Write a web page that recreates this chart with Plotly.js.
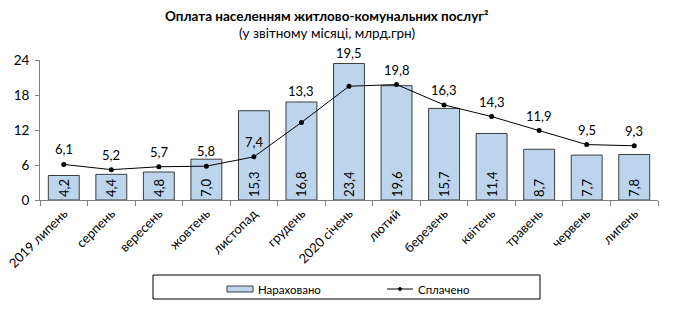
<!DOCTYPE html>
<html>
<head>
<meta charset="utf-8">
<script src="https://cdn.plot.ly/plotly-3.0.1.min.js"></script>
<style>
  html, body { margin: 0; padding: 0; background: #fff; }
  #chart { width: 681px; height: 310px; }
</style>
</head>
<body>
<div id="chart"></div>
<script>
// Місяці звітного періоду
const months = ['2019 липень', 'серпень', 'вересень', 'жовтень', 'листопад', 'грудень',
  '2020 січень', 'лютий', 'березень', 'квітень', 'травень', 'червень', 'липень'];
// Нараховано, млрд.грн
const accrued = [4.2, 4.4, 4.8, 7.0, 15.3, 16.8, 23.4, 19.6, 15.7, 11.4, 8.7, 7.7, 7.8];
// Сплачено, млрд.грн
const paid = [6.1, 5.2, 5.7, 5.8, 7.4, 13.3, 19.5, 19.8, 16.3, 14.3, 11.9, 9.5, 9.3];

const seriesNames = ['Нараховано', 'Сплачено'];
const titleText = 'Оплата населенням житлово-комунальних послуг²';
const subtitleText = '(у звітному місяці, млрд.грн)';

const FONT = 'Lato, "Liberation Sans", sans-serif';
const BAR_FILL = '#bdd4ed';
const BAR_EDGE = '#3c3c3c';
const fmt = v => v.toFixed(1).replace('.', ',');

// Plot area in pixels, used to place items outside the axes
const W = 681, H = 310;
const M = { l: 40, r: 23, t: 60, b: 110 };
const PW = W - M.l - M.r, PH = H - M.t - M.b;
const px = x => (x - M.l) / PW;
const py = y => (H - M.b - y) / PH;

const bars = {
  type: 'bar',
  name: seriesNames[0],
  x: months,
  y: accrued,
  width: 0.65,
  marker: { color: BAR_FILL, line: { color: BAR_EDGE, width: 1 } },
  text: accrued.map(fmt),
  textposition: 'inside',
  insidetextanchor: 'start',
  textangle: -90,
  constraintext: 'none',
  textfont: { family: FONT, size: 13, color: '#000' },
  hoverinfo: 'x+y'
};

const line = {
  type: 'scatter',
  mode: 'lines+markers',
  name: seriesNames[1],
  x: months,
  y: paid,
  line: { color: '#000', width: 1 },
  marker: { color: '#000', size: 5 },
  hoverinfo: 'x+y'
};

// Підписи лінії: над точкою, а на грудень–січень, де стовпчик вищий, — над стовпчиком
const lifted = new Set([5, 6]);
const lineLabels = paid.map((v, i) => ({
  x: months[i],
  y: lifted.has(i) ? accrued[i] : v,
  yshift: lifted.has(i) ? 11 : 15,
  text: fmt(v),
  showarrow: false,
  font: { family: FONT, size: 13, color: '#000' }
}));

const headings = [
  { text: '<b>' + titleText + '</b>', y: py(16), size: 13.5 },
  { text: subtitleText, y: py(33), size: 13.5 }
].map(h => ({
  xref: 'paper', yref: 'paper', x: px(327), y: h.y,
  xanchor: 'center', yanchor: 'middle', showarrow: false,
  text: h.text, font: { family: FONT, size: h.size, color: '#000' }
}));

// Легенда в рамці під графіком
const legendY = 289;
const legendText = [
  { text: seriesNames[0], x: 256 },
  { text: seriesNames[1], x: 416 }
].map(t => ({
  xref: 'paper', yref: 'paper', x: px(t.x), y: py(legendY),
  xanchor: 'left', yanchor: 'middle', showarrow: false,
  text: t.text, font: { family: FONT, size: 11.5, color: '#000' }
}));

const legendShapes = [
  { type: 'rect', x0: px(153), x1: px(540), y0: py(299), y1: py(275),
    line: { color: '#000', width: 1 }, fillcolor: 'rgba(0,0,0,0)' },
  { type: 'rect', x0: px(227), x1: px(253), y0: py(292), y1: py(286),
    line: { color: BAR_EDGE, width: 1 }, fillcolor: BAR_FILL },
  { type: 'line', x0: px(387), x1: px(413), y0: py(legendY), y1: py(legendY),
    line: { color: '#000', width: 1 } },
  { type: 'circle', x0: px(398.5), x1: px(401.5), y0: py(legendY + 1.5), y1: py(legendY - 1.5),
    line: { color: '#000', width: 1 }, fillcolor: '#000' }
].map(s => Object.assign({ xref: 'paper', yref: 'paper' }, s));

const layout = {
  width: W,
  height: H,
  margin: M,
  paper_bgcolor: '#fff',
  plot_bgcolor: '#fff',
  font: { family: FONT, size: 12, color: '#000' },
  showlegend: false,
  xaxis: {
    type: 'category',
    automargin: false,
    range: [-0.5, months.length - 0.5],
    tickangle: -45,
    ticks: 'outside',
    tickson: 'boundaries',
    ticklen: 5,
    tickcolor: '#7f7f7f',
    showline: true,
    linecolor: '#7f7f7f',
    linewidth: 1,
    showgrid: false,
    tickfont: { family: FONT, size: 13, color: '#000' }
  },
  yaxis: {
    automargin: false,
    range: [0, 24],
    tickvals: [0, 6, 12, 18, 24],
    ticks: 'outside',
    ticklen: 4,
    ticklabelstandoff: 3,
    tickcolor: '#7f7f7f',
    showline: true,
    linecolor: '#7f7f7f',
    linewidth: 1,
    showgrid: false,
    zeroline: false,
    tickfont: { family: FONT, size: 13.5, color: '#000' }
  },
  shapes: legendShapes,
  annotations: headings.concat(legendText, lineLabels)
};

Plotly.newPlot('chart', [bars, line], layout, { displayModeBar: false, staticPlot: true });
</script>
</body>
</html>
